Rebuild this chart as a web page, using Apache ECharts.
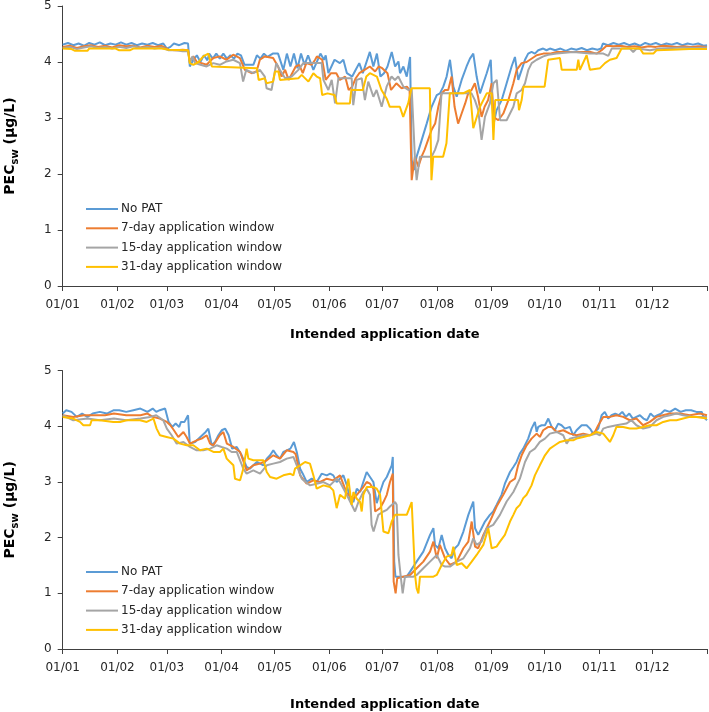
<!DOCTYPE html>
<html><head><meta charset="utf-8">
<script src="https://cdn.jsdelivr.net/npm/echarts@6/dist/echarts.min.js"></script>
<style>html,body{margin:0;padding:0;background:#fff}#c{width:709px;height:712px}</style>
</head><body><div id="c"></div>
<script>
// Tick positions (day of year) and labels
const monthStarts = [0,31,59,90,120,151,181,212,243,273,304,334,365];
const monthLabels = ['01/01','01/02','01/03','01/04','01/05','01/06','01/07','01/08','01/09','01/10','01/11','01/12',''];
const seriesNames = ['No PAT','7-day application window','15-day application window','31-day application window'];
const colors = ['#5B9BD5','#ED7D31','#A5A5A5','#FFC000'];

// ---------- Top panel: [day of year, PEC] ----------
const topNoPAT = [[0,4.31],[3,4.34],[6,4.30],[9,4.33],[12,4.29],[15,4.34],[18,4.31],[21,4.35],[24,4.30],[27,4.33],[30,4.31],[33,4.35],[36,4.31],[39,4.34],[42,4.30],[45,4.33],[48,4.31],[51,4.34],[54,4.30],[57,4.33],[59,4.24],[61,4.27],[63,4.33],[66,4.30],[69,4.34],[71,4.33],[72,3.92],[74,4.04],[76,4.12],[78,4.00],[80,4.12],[82,4.03],[83,4.15],[85,4.06],[87,4.15],[89,4.06],[91,4.15],[93,4.06],[95,4.12],[97,4.06],[99,4.15],[101,4.12],[103,3.95],[108,3.95],[110,4.12],[112,4.06],[114,4.15],[116,4.09],[119,4.15],[122,4.15],[125,3.86],[127,4.15],[129,3.92],[131,4.15],[133,3.89],[135,4.15],[137,3.95],[139,4.12],[142,3.86],[146,4.15],[148,4.04],[149,4.12],[150.5,3.80],[154,4.04],[157,3.98],[159,4.04],[161,3.80],[164,3.74],[166,3.86],[168,3.98],[170,3.80],[174,4.18],[176,3.92],[178,4.15],[180,3.74],[182,3.80],[184,3.92],[186.4,4.18],[188.3,3.92],[190.2,4.01],[191.1,3.80],[193,3.92],[194.9,3.74],[196.8,4.09],[197.7,2.25],[199,2.07],[200.5,2.31],[203.4,2.61],[206.2,2.90],[209,3.20],[211.9,3.41],[213.7,3.44],[215.6,3.56],[217.5,3.74],[219.4,4.04],[221.3,3.56],[223.2,3.38],[226,3.68],[228.8,3.92],[230.7,4.06],[232.6,4.15],[234.5,3.74],[236.4,3.44],[238.3,3.62],[240.2,3.80],[242.5,4.04],[244,2.88],[245.8,3.14],[248.7,3.32],[251.5,3.62],[254.3,3.92],[256.2,4.09],[258.1,3.68],[260,3.86],[261.9,4.04],[263.7,4.15],[265.6,4.18],[267.5,4.15],[269.4,4.21],[272.2,4.24],[274.1,4.21],[276,4.24],[279,4.21],[282,4.24],[285,4.20],[288,4.24],[291,4.22],[294,4.25],[297,4.21],[300,4.24],[303,4.22],[305,4.24],[306,4.33],[309,4.30],[312,4.34],[315,4.31],[318,4.34],[321,4.30],[324,4.33],[327,4.29],[330,4.34],[333,4.31],[336,4.34],[339,4.30],[342,4.33],[345,4.31],[348,4.34],[351,4.30],[354,4.33],[357,4.31],[360,4.33],[363,4.29],[365,4.30]];
const topWin7 = [[0,4.27],[4,4.29],[8,4.25],[12,4.28],[16,4.30],[20,4.27],[24,4.29],[28,4.26],[32,4.30],[36,4.28],[40,4.29],[44,4.26],[48,4.29],[52,4.27],[56,4.29],[60,4.22],[64,4.21],[68,4.22],[71,4.21],[72,4.01],[74,4.10],[76,4.00],[78.7,3.98],[81.5,3.95],[85.3,4.07],[89,4.10],[92.8,4.04],[96.6,4.13],[100.4,4.07],[103.2,3.86],[107,3.80],[109.8,3.83],[111.7,4.04],[114.5,4.10],[119.2,4.07],[122,3.92],[124,3.74],[126,3.86],[128,3.68],[130,3.80],[132,3.92],[134,3.95],[136,3.80],[138,3.98],[141,3.95],[143,4.04],[144,4.10],[147,4.04],[149,3.68],[152,3.80],[155,3.80],[157,3.68],[160,3.74],[162,3.50],[164,3.56],[166,3.71],[168,3.80],[171,3.86],[174,3.92],[177,3.83],[179,3.92],[181,3.89],[184,3.80],[186,3.50],[189,3.62],[192,3.53],[195,3.56],[196.5,3.50],[197.7,1.89],[199.5,2.31],[201.5,2.13],[203.3,2.31],[205,2.43],[207,2.61],[209,2.79],[211,2.90],[212.8,3.20],[214.7,3.44],[216.5,3.50],[218.4,3.50],[220.3,3.74],[222,3.20],[224,2.90],[226,3.08],[228,3.26],[229.7,3.44],[231.6,3.50],[233.5,3.62],[235.3,3.38],[237.3,3.02],[239,3.20],[241,3.32],[243,3.62],[244,3.02],[246.8,2.96],[249.6,3.08],[252.5,3.32],[255.3,3.62],[257.2,3.86],[260,3.98],[262.8,4.00],[264.7,4.04],[268.5,4.12],[272.3,4.15],[276,4.15],[280,4.18],[287,4.18],[293,4.18],[299,4.18],[302.5,4.15],[305.3,4.21],[306.3,4.24],[308.1,4.29],[312,4.28],[316,4.29],[320,4.27],[324,4.28],[328,4.26],[332,4.28],[336,4.27],[340,4.29],[344,4.28],[348,4.27],[352,4.28],[356,4.27],[360,4.28],[365,4.27]];
const topWin15 = [[0,4.25],[4,4.27],[8,4.23],[12,4.26],[16,4.28],[20,4.25],[24,4.27],[28,4.24],[32,4.27],[36,4.25],[40,4.28],[44,4.25],[48,4.27],[52,4.24],[56,4.26],[60,4.21],[64,4.21],[68,4.19],[71,4.19],[72,3.98],[73.5,4.10],[75,3.98],[78,3.95],[81.5,3.92],[85.3,3.98],[89,3.95],[92.8,4.01],[96.6,4.04],[100.4,3.98],[102.2,3.65],[104,3.86],[108,3.80],[111.7,3.86],[114.5,3.74],[115.5,3.53],[118.3,3.50],[120,3.80],[121,3.98],[123,3.86],[126,3.71],[129.7,3.74],[133.5,3.86],[136.3,3.98],[146.7,3.98],[147.7,3.68],[150.5,3.50],[152.4,3.68],[154.3,3.26],[156.2,3.71],[163.7,3.71],[164.6,3.23],[166.5,3.68],[169.4,3.71],[171.2,3.32],[173.1,3.65],[176,3.38],[177.8,3.50],[180.7,3.20],[183.5,3.56],[186.3,3.74],[188.2,3.68],[190.1,3.74],[193,3.56],[195.8,3.50],[197.7,3.53],[199.5,2.31],[200.5,1.89],[202.4,2.31],[209,2.31],[210.9,2.43],[212.8,2.61],[214.6,3.44],[231.6,3.44],[233.5,3.32],[235.4,3.14],[237.3,2.61],[239.2,3.02],[242,3.26],[244,3.62],[245.9,3.68],[247.8,2.96],[251.5,2.96],[253.4,3.08],[255.3,3.20],[257.2,3.44],[260,3.50],[261.9,3.62],[263.8,3.86],[265.7,3.98],[268.5,4.04],[272.3,4.10],[275.1,4.13],[279.8,4.15],[289.3,4.18],[298.7,4.15],[306.3,4.15],[309.1,4.11],[311,4.24],[321.3,4.24],[323.2,4.18],[325.1,4.24],[332.7,4.21],[338.3,4.24],[345,4.25],[352,4.26],[358,4.25],[365,4.26]];
const topWin31 = [[0,4.24],[5,4.23],[7,4.20],[14,4.20],[15,4.24],[30,4.24],[32,4.21],[38,4.21],[40,4.24],[56,4.24],[60,4.22],[71,4.21],[72,3.98],[74,3.95],[77,4.00],[79.6,4.10],[82.5,4.15],[84.5,3.92],[85.3,3.89],[110,3.89],[111,3.68],[114.5,3.71],[115.5,3.62],[119.2,3.65],[120.3,3.83],[122.2,3.83],[123.1,3.68],[124.1,3.71],[133.5,3.71],[135.4,3.77],[139.2,3.65],[142,3.80],[143.9,3.74],[145.8,3.71],[147,3.41],[150,3.44],[154,3.41],[155.2,3.26],[162.7,3.26],[163.5,3.50],[170,3.50],[172,3.74],[174,3.80],[178,3.74],[180.6,3.50],[183.5,3.35],[185.3,3.20],[191,3.20],[192.9,3.02],[195.7,3.26],[197.6,3.53],[208,3.53],[208.9,1.89],[209.9,2.31],[215.5,2.31],[217.4,2.55],[219.3,3.44],[226.8,3.44],[230.7,3.50],[232.6,2.82],[236.4,3.20],[240.2,3.44],[243,3.44],[244,2.61],[245,3.32],[249,3.32],[258,3.32],[258.5,3.14],[260,3.32],[261,3.56],[273,3.56],[275,4.04],[281.7,4.07],[282.7,3.86],[291.2,3.86],[292.1,4.04],[293,3.86],[296.8,4.12],[298.7,3.86],[304.4,3.89],[307.2,3.98],[310,4.04],[313.8,4.07],[316.6,4.24],[327,4.24],[328.9,4.15],[334.6,4.15],[336.4,4.21],[345,4.22],[355,4.23],[365,4.23]];

// ---------- Bottom panel: [day of year, PEC] ----------
const botNoPAT = [[0,4.23],[2,4.29],[5,4.26],[8,4.17],[11,4.23],[14,4.17],[17,4.23],[21,4.26],[25,4.23],[29,4.29],[32,4.29],[36,4.26],[40,4.29],[44,4.32],[48,4.26],[51,4.32],[53,4.26],[55,4.29],[58,4.32],[60,4.08],[62,3.99],[64,4.05],[66,3.99],[67,4.08],[69,4.08],[71,4.20],[72,3.69],[75,3.72],[78,3.81],[81,3.90],[82.5,3.96],[84.4,3.66],[86.3,3.72],[88.2,3.84],[90.1,3.93],[92,3.96],[94,3.84],[96,3.60],[98.6,3.63],[101.4,3.48],[104.2,3.27],[106,3.24],[108,3.30],[110,3.36],[113.7,3.30],[115.6,3.42],[117.5,3.48],[119.3,3.57],[121.2,3.48],[123.1,3.42],[125,3.54],[127,3.57],[129,3.60],[131,3.72],[132.6,3.54],[134.5,3.24],[136,3.15],[138.2,3.00],[141.1,3.06],[143.9,3.00],[146.7,3.15],[149.6,3.12],[151.5,3.15],[153.3,3.12],[155.2,3.00],[157,3.06],[159,3.12],[161,2.94],[162.8,2.70],[164.7,2.64],[166.6,2.88],[168.5,2.82],[170.3,3.00],[172.2,3.18],[174.1,3.09],[176,3.00],[177,3.03],[177.9,2.62],[179.8,2.82],[181.7,3.00],[183.6,3.09],[186.4,3.30],[187,3.45],[187.8,1.57],[188.5,1.30],[190,1.30],[194.9,1.30],[196.8,1.39],[200.5,1.57],[204.3,1.75],[208.1,2.05],[210,2.17],[210.9,1.87],[212.8,1.81],[214.7,2.05],[216.6,1.81],[218.5,1.69],[220.3,1.63],[222.2,1.81],[224.1,1.87],[227,2.11],[229.8,2.41],[232.6,2.65],[233.6,2.17],[235.4,2.05],[237.3,2.17],[239.2,2.29],[242,2.41],[243.9,2.47],[245.8,2.59],[248.6,2.77],[250.5,2.97],[253.4,3.18],[255.3,3.27],[257.1,3.36],[259,3.51],[260.9,3.60],[263.7,3.78],[265.6,3.96],[267.5,4.08],[268.5,3.90],[269.4,3.99],[271.3,4.02],[273.2,4.02],[275.1,4.14],[277,3.99],[278.8,3.93],[280.7,4.05],[282.6,4.02],[284.5,3.96],[287.3,3.99],[289.2,3.84],[291.1,3.93],[294,4.02],[296.8,4.02],[298.7,3.96],[300.5,3.87],[303.4,3.96],[305.3,4.20],[307.1,4.26],[309,4.14],[310.9,4.20],[313,4.23],[315,4.20],[317,4.26],[319,4.17],[321,4.23],[323,4.14],[325,4.17],[327,4.20],[329,4.14],[331,4.11],[333,4.23],[335,4.17],[337,4.20],[339,4.23],[341,4.29],[344,4.26],[347,4.32],[350,4.26],[353,4.29],[356,4.29],[359,4.26],[362,4.26],[363,4.17],[365,4.11]];
const botWin7 = [[0,4.20],[6,4.17],[12,4.20],[18,4.20],[24,4.20],[29,4.23],[36,4.20],[44,4.20],[48,4.23],[51,4.17],[55,4.14],[59,4.08],[61,4.02],[63,3.93],[65.5,3.81],[68.4,3.90],[70.2,3.81],[72.1,3.69],[75.9,3.75],[78.7,3.78],[81.6,3.84],[83.5,3.69],[85.4,3.66],[89,3.84],[91,3.90],[93,3.69],[95,3.66],[96.7,3.63],[100.5,3.54],[104.2,3.21],[108,3.30],[111.8,3.33],[115.6,3.39],[119.3,3.48],[123.1,3.42],[126.9,3.57],[130.7,3.54],[132,3.50],[134.5,3.12],[138.2,2.97],[142,3.03],[145.8,3.00],[149.6,3.06],[153.3,3.03],[157.1,3.12],[160.9,2.80],[164.7,2.70],[166.6,2.77],[170.3,2.91],[172.2,3.00],[174.1,2.97],[176,2.88],[177,2.47],[179.8,2.53],[181.7,2.64],[183.6,2.77],[185.4,3.00],[187,3.15],[187.5,1.21],[188.6,1.00],[189.5,1.27],[193,1.30],[196.8,1.33],[200.5,1.45],[204.3,1.57],[208.1,1.75],[210,1.93],[211.9,1.63],[213.7,1.87],[216.6,1.63],[219.4,1.51],[223.2,1.57],[227,1.81],[229.8,1.93],[231.7,2.29],[233.6,1.84],[235.4,1.81],[238.3,2.05],[242,2.29],[245.8,2.56],[249.6,2.77],[253.4,3.00],[256.2,3.06],[258,3.30],[260,3.48],[262.8,3.66],[265.6,3.78],[268.5,3.87],[270.3,3.81],[272.2,3.93],[275.1,3.99],[277,3.99],[279.8,3.90],[283.6,3.93],[287.3,3.87],[291.1,3.84],[294.9,3.87],[298.7,3.84],[301.5,3.90],[303.4,4.02],[306.2,4.17],[310,4.17],[313.7,4.20],[317.5,4.17],[321.3,4.11],[325,4.14],[328.8,4.02],[332.6,4.08],[336.4,4.17],[340,4.20],[344,4.23],[349.6,4.23],[355.3,4.20],[361,4.23],[365,4.20]];
const botWin15 = [[0,4.20],[6,4.11],[14,4.14],[21,4.11],[29,4.14],[36,4.11],[44,4.14],[49.5,4.17],[53,4.20],[57,4.11],[59,3.96],[61.7,3.84],[64.6,3.69],[68.4,3.72],[72.1,3.63],[75.9,3.57],[79.7,3.57],[83.5,3.60],[87.2,3.66],[90,3.63],[93,3.60],[95.7,3.54],[98.6,3.54],[102.3,3.24],[104.2,3.15],[108,3.21],[111.8,3.15],[115.6,3.30],[119.3,3.33],[123.1,3.36],[126.9,3.42],[130.7,3.45],[132.6,3.30],[135.4,3.06],[140.1,2.94],[143.9,2.97],[147.7,3.00],[151.4,2.94],[155.2,3.06],[157.1,3.00],[160.9,2.77],[162.8,2.65],[165.6,2.47],[167.5,2.64],[170.3,2.82],[172.2,2.88],[174.1,2.77],[175,2.23],[176.1,2.11],[177,2.14],[178.8,2.41],[181.7,2.47],[183.6,2.50],[185.4,2.56],[188.3,2.64],[189.2,2.59],[190.2,1.69],[191.5,1.30],[192.6,1.00],[193.9,1.30],[198.7,1.30],[200.5,1.33],[204.3,1.45],[208.1,1.57],[211.9,1.69],[214.7,1.51],[216.6,1.48],[219.4,1.48],[223.2,1.57],[227,1.63],[230.7,1.81],[232.6,1.99],[234.5,1.87],[237.3,1.93],[240.2,2.17],[243.9,2.23],[247.7,2.41],[251.5,2.65],[255.3,2.82],[259,3.06],[261.9,3.36],[264.7,3.54],[267.5,3.60],[270.3,3.72],[273.2,3.78],[276,3.87],[279.8,3.90],[283.6,3.84],[285.5,3.69],[287.3,3.78],[291.1,3.81],[294.9,3.84],[298.7,3.84],[302.4,3.87],[304.3,3.84],[306.2,3.96],[309,3.99],[313.7,4.02],[319.3,4.05],[322.2,4.11],[325,4.02],[328.8,3.96],[332.6,3.99],[336.4,4.11],[340.2,4.17],[344,4.20],[347.7,4.23],[351.5,4.20],[357.2,4.17],[365,4.17]];
const botWin31 = [[0,4.17],[6,4.14],[9.8,4.08],[11.7,4.02],[15.5,4.02],[16.4,4.11],[21,4.11],[28.7,4.08],[32.5,4.08],[36.2,4.11],[43.8,4.11],[47.6,4.08],[51.4,4.14],[53.2,3.96],[55.1,3.84],[58.9,3.81],[62.7,3.78],[66.5,3.69],[70.2,3.66],[74,3.66],[77.8,3.57],[81.6,3.60],[85.4,3.54],[89.1,3.54],[91,3.60],[92.9,3.42],[94.8,3.36],[96.7,3.30],[97.6,3.06],[100.5,3.03],[102.3,3.24],[104.2,3.60],[105.2,3.42],[108,3.39],[113.7,3.39],[115.6,3.18],[117.5,3.09],[121.2,3.06],[125,3.12],[128.8,3.15],[130.7,3.12],[131.6,3.24],[134.5,3.30],[137.3,3.36],[140.1,3.33],[142,3.12],[143.9,2.88],[147.7,2.94],[151.4,2.91],[153.3,2.85],[155.2,2.53],[157.1,2.77],[159.9,2.70],[161.8,3.06],[163.7,2.59],[164.7,2.82],[166.6,2.70],[168.5,2.64],[169.4,2.47],[170.3,2.77],[172.2,2.91],[176,2.91],[177.9,2.88],[179.8,2.77],[181.7,2.11],[184.5,2.08],[186.4,2.29],[188.3,2.41],[194.9,2.41],[197.7,2.64],[199.6,1.33],[200.5,1.09],[201.5,1.00],[202.4,1.30],[210,1.30],[211.9,1.33],[214.7,1.51],[217.5,1.66],[220.3,1.69],[221.3,1.84],[223.2,1.51],[226,1.54],[228.8,1.45],[231.7,1.57],[234.5,1.69],[238.3,1.87],[241.1,2.17],[243,1.81],[245.8,1.84],[247.7,1.93],[250.5,2.05],[253.4,2.29],[255.3,2.41],[257.1,2.53],[259,2.59],[260.9,2.71],[262.8,2.77],[265.6,2.94],[267.5,3.12],[270.3,3.30],[273.2,3.48],[276,3.60],[278.8,3.66],[281.7,3.72],[285.5,3.75],[289.2,3.75],[291.1,3.78],[294.9,3.81],[298.7,3.84],[302.4,3.90],[306.2,3.87],[310,3.72],[311.9,3.84],[313.7,3.99],[317.5,3.99],[321.3,3.96],[325,3.96],[328.8,3.99],[332.6,4.02],[336.4,4.02],[340.2,4.08],[344,4.11],[347.7,4.11],[351.5,4.14],[355.3,4.17],[359,4.17],[365,4.14]];

const topData = [topNoPAT, topWin7, topWin15, topWin31];
const botData = [botNoPAT, botWin7, botWin15, botWin31];

const FONT = 'DejaVu Sans';
const AXIS_COLOR = '#404040';

function makeX(gi, gap){
  return {
    type:'value', gridIndex:gi, min:0, max:365,
    axisLine:{show:true, lineStyle:{color:AXIS_COLOR, width:1}},
    axisTick:{show:true, customValues:monthStarts, length:5, lineStyle:{color:AXIS_COLOR}},
    axisLabel:{customValues:monthStarts.slice(0,12), margin:13, color:'#262626', fontSize:12, fontFamily:FONT,
      formatter:function(v){ const i = monthStarts.indexOf(Math.round(v)); return i>=0 ? monthLabels[i] : ''; }},
    splitLine:{show:false},
    name:'Intended application date', nameLocation:'middle', nameGap:gap,
    nameTextStyle:{fontWeight:'bold', fontSize:13, color:'#000', fontFamily:FONT}
  };
}
function makeY(gi){
  return {
    type:'value', gridIndex:gi, min:0, max:5, interval:1,
    axisLine:{show:true, lineStyle:{color:AXIS_COLOR, width:1}},
    axisTick:{show:true, length:5, lineStyle:{color:AXIS_COLOR}},
    axisLabel:{margin:11, color:'#262626', fontSize:12, fontFamily:FONT},
    splitLine:{show:false},
    name:'{a|PEC}{b|sw}{a| (\u03bcg/L)}', nameLocation:'middle', nameGap:42,
    nameTextStyle:{rich:{
      a:{fontWeight:'bold', fontSize:14, color:'#000', fontFamily:FONT, lineHeight:20, verticalAlign:'middle'},
      b:{fontWeight:'bold', fontSize:10, color:'#000', fontFamily:FONT, lineHeight:20, verticalAlign:'bottom'}
    }}
  };
}
function makeLegend(top){
  return {
    orient:'vertical', left:86, top:top, padding:0,
    icon:'rect', itemWidth:32, itemHeight:2, itemGap:7.3,
    data:seriesNames, selectedMode:false,
    textStyle:{fontSize:12, fontFamily:FONT, color:'#262626', padding:[0,0,0,-2]}
  };
}

const series = [];
[topData, botData].forEach(function(set, gi){
  set.forEach(function(d, k){
    series.push({
      type:'line', name:seriesNames[k], xAxisIndex:gi, yAxisIndex:gi, data:d,
      symbol:'none', showSymbol:false, smooth:false,
      lineStyle:{color:colors[k], width:2}, itemStyle:{color:colors[k]}, z:2+k
    });
  });
});

const chart = echarts.init(document.getElementById('c'), null, {renderer:'canvas'});
chart.setOption({
  animation:false,
  backgroundColor:'#fff',
  color:colors,
  grid:[
    {left:62.7, right:2, top:6, bottom:426, containLabel:false, outerBoundsMode:'none'},
    {left:62.7, right:2, top:370.7, bottom:63, containLabel:false, outerBoundsMode:'none'}
  ],
  xAxis:[makeX(0, 42), makeX(1, 49)],
  yAxis:[makeY(0), makeY(1)],
  legend:[makeLegend(203), makeLegend(566)],
  series:series
});
</script>
</body></html>
